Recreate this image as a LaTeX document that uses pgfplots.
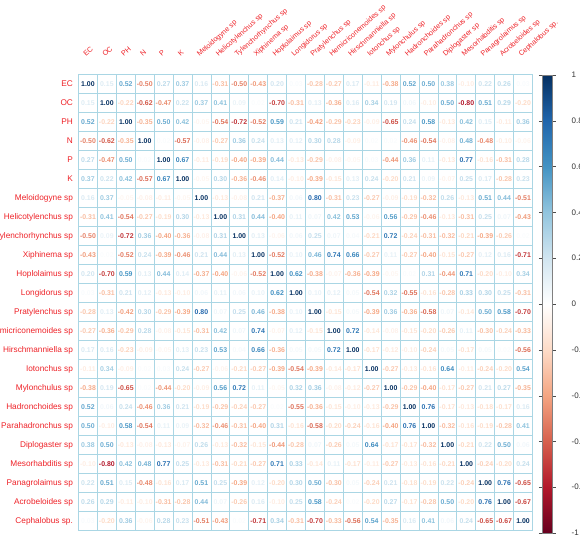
\documentclass[border=0pt]{standalone}
\usepackage{pgfplots}
\usepackage{pgfplotstable}
\usepackage{fontspec}
\setmainfont{Liberation Sans}
\pgfplotsset{compat=1.18}
\definecolor{gridblue}{RGB}{170,214,228}
\definecolor{labred}{RGB}{238,34,40}
\pgfplotstableread{
c0 c1 c2 c3 c4 c5 c6 c7 c8 c9 c10 c11 c12 c13 c14 c15 c16 c17 c18 c19 c20 c21 c22 c23
1.00 0.15 0.52 -0.50 0.27 0.37 0.16 -0.31 -0.50 -0.43 0.20 0.03 -0.28 -0.27 0.17 -0.11 -0.38 0.52 0.50 0.38 -0.10 0.22 0.26 0.03
0.15 1.00 -0.22 -0.62 -0.47 0.22 0.37 0.41 0.09 0.02 -0.70 -0.31 0.13 -0.36 0.16 0.34 0.19 0.06 -0.10 0.50 -0.80 0.51 0.29 -0.20
0.52 -0.22 1.00 -0.35 0.50 0.42 -0.05 -0.54 -0.72 -0.52 0.59 0.21 -0.42 -0.29 -0.23 -0.09 -0.65 0.24 0.58 -0.13 0.42 0.15 -0.11 0.36
-0.50 -0.62 -0.35 1.00 0.02 -0.57 -0.08 -0.27 0.36 0.24 0.13 0.12 0.30 0.28 -0.09 0.02 0.02 -0.46 -0.54 -0.08 0.48 -0.48 -0.10 -0.06
0.27 -0.47 0.50 0.02 1.00 0.67 -0.11 -0.19 -0.40 -0.39 0.44 -0.13 -0.29 -0.08 -0.05 0.03 -0.44 0.36 0.11 -0.13 0.77 -0.16 -0.31 0.28
0.37 0.22 0.42 -0.57 0.67 1.00 -0.05 0.30 -0.36 -0.46 0.14 -0.10 -0.39 -0.15 0.13 0.24 -0.20 0.21 0.09 -0.07 0.25 0.17 -0.28 0.23
0.16 0.37 -0.05 -0.08 -0.11 -0.05 1.00 -0.13 -0.08 0.21 -0.37 0.06 0.80 -0.31 0.23 -0.27 -0.09 -0.19 -0.32 0.26 -0.13 0.51 0.44 -0.51
-0.31 0.41 -0.54 -0.27 -0.19 0.30 -0.13 1.00 0.31 0.44 -0.40 0.11 0.07 0.42 0.53 -0.06 0.56 -0.29 -0.46 -0.13 -0.31 0.25 0.07 -0.43
-0.50 0.09 -0.72 0.36 -0.40 -0.36 -0.08 0.31 1.00 0.13 -0.06 0.06 0.25 0.07 0.04 -0.21 0.72 -0.24 -0.31 -0.32 -0.21 -0.39 -0.26 0.02
-0.43 0.02 -0.52 0.24 -0.39 -0.46 0.21 0.44 0.13 1.00 -0.52 0.10 0.46 0.74 0.66 -0.27 0.11 -0.27 -0.40 -0.15 -0.27 0.12 0.16 -0.71
0.20 -0.70 0.59 0.13 0.44 0.14 -0.37 -0.40 -0.06 -0.52 1.00 0.62 -0.38 -0.07 -0.36 -0.39 -0.05 0.02 0.31 -0.44 0.71 -0.20 -0.10 0.34
0.03 -0.31 0.21 0.12 -0.13 -0.10 0.06 0.11 0.06 0.10 0.62 1.00 0.10 0.12 0.05 -0.54 0.32 -0.55 -0.16 -0.28 0.33 0.30 0.25 -0.31
-0.28 0.13 -0.42 0.30 -0.29 -0.39 0.80 0.07 0.25 0.46 -0.38 0.10 1.00 -0.15 0.05 -0.39 0.36 -0.36 -0.58 0.07 -0.14 0.50 0.58 -0.70
-0.27 -0.36 -0.29 0.28 -0.08 -0.15 -0.31 0.42 0.07 0.74 -0.07 0.12 -0.15 1.00 0.72 -0.14 -0.08 -0.15 -0.20 -0.26 0.11 -0.30 -0.24 -0.33
0.17 0.16 -0.23 -0.09 -0.05 0.13 0.23 0.53 0.04 0.66 -0.36 0.05 0.05 0.72 1.00 -0.17 -0.12 -0.10 -0.24 0.05 -0.17 0.05 0.02 -0.56
-0.11 0.34 -0.09 0.02 0.03 0.24 -0.27 -0.06 -0.21 -0.27 -0.39 -0.54 -0.39 -0.14 -0.17 1.00 -0.27 -0.13 -0.16 0.64 -0.11 -0.24 -0.20 0.54
-0.38 0.19 -0.65 0.02 -0.44 -0.20 -0.09 0.56 0.72 0.11 -0.05 0.32 0.36 -0.08 -0.12 -0.27 1.00 -0.29 -0.40 -0.17 -0.27 0.21 0.27 -0.35
0.52 0.06 0.24 -0.46 0.36 0.21 -0.19 -0.29 -0.24 -0.27 0.02 -0.55 -0.36 -0.15 -0.10 -0.13 -0.29 1.00 0.76 -0.17 -0.13 -0.18 -0.17 0.16
0.50 -0.10 0.58 -0.54 0.11 0.09 -0.32 -0.46 -0.31 -0.40 0.31 -0.16 -0.58 -0.20 -0.24 -0.16 -0.40 0.76 1.00 -0.32 -0.16 -0.19 -0.28 0.41
0.38 0.50 -0.13 -0.08 -0.13 -0.07 0.26 -0.13 -0.32 -0.15 -0.44 -0.28 0.07 -0.26 0.05 0.64 -0.17 -0.17 -0.32 1.00 -0.21 0.22 0.50 0.06
-0.10 -0.80 0.42 0.48 0.77 0.25 -0.13 -0.31 -0.21 -0.27 0.71 0.33 -0.14 0.11 -0.17 -0.11 -0.27 -0.13 -0.16 -0.21 1.00 -0.24 -0.20 0.24
0.22 0.51 0.15 -0.48 -0.16 0.17 0.51 0.25 -0.39 0.12 -0.20 0.30 0.50 -0.30 0.05 -0.24 0.21 -0.18 -0.19 0.22 -0.24 1.00 0.76 -0.65
0.26 0.29 -0.11 -0.10 -0.31 -0.28 0.44 0.07 -0.26 0.16 -0.10 0.25 0.58 -0.24 0.02 -0.20 0.27 -0.17 -0.28 0.50 -0.20 0.76 1.00 -0.67
0.03 -0.20 0.36 -0.06 0.28 0.23 -0.51 -0.43 0.02 -0.71 0.34 -0.31 -0.70 -0.33 -0.56 0.54 -0.35 0.16 0.41 0.06 0.24 -0.65 -0.67 1.00
}\corrtable
\begin{document}
\begin{tikzpicture}
\begin{axis}[
  at={(58.875pt,-55.875pt)}, anchor=north west,
  x=14.1875pt, y=14.25pt, y dir=reverse,
  xmin=-0.5, xmax=23.5, ymin=-0.5, ymax=23.5,
  clip=false,
  axis line style={draw=gridblue, line width=0.6pt},
  xtick={0,...,23}, ytick={0,...,23},
  xticklabel pos=right,
  xticklabels={EC,OC,PH,N,P,K,Meloidogyne sp,Helicotylenchus sp,Tylenchorhynchus sp,Xiphinema sp,Hoplolaimus sp,Longidorus sp,Pratylenchus sp,Hemicriconemoides sp,Hirschmanniella sp,Iotonchus sp,Mylonchulus sp,Hadronchoides sp,Parahadronchus sp,Diplogaster sp,Mesorhabditis sp,Panagrolaimus sp,Acrobeloides sp,Cephalobus sp.},
  yticklabels={EC,OC,PH,N,P,K,Meloidogyne sp,Helicotylenchus sp,Tylenchorhynchus sp,Xiphinema sp,Hoplolaimus sp,Longidorus sp,Pratylenchus sp,Hemicriconemoides sp,Hirschmanniella sp,Iotonchus sp,Mylonchulus sp,Hadronchoides sp,Parahadronchus sp,Diplogaster sp,Mesorhabditis sp,Panagrolaimus sp,Acrobeloides sp,Cephalobus sp.},
  major tick length=0pt, minor tick length=0pt,
  minor xtick={-0.5,0.5,...,23.5}, minor ytick={-0.5,0.5,...,23.5},
  xminorgrids=true, yminorgrids=true,
  minor grid style={draw=gridblue, line width=0.6pt},
  xticklabel style={font=\fontsize{5.4}{6}\selectfont, text=labred, inner sep=0pt, xshift=-1.5pt, yshift=13pt, rotate=42, anchor=base west},
  yticklabel style={font=\fontsize{6.2}{7}\selectfont, text=labred, inner sep=0pt, anchor=east, xshift=-4pt},
  colormap={corr}{rgb255=(103,0,31) rgb255=(178,24,43) rgb255=(214,96,77) rgb255=(244,165,130) rgb255=(253,219,199) rgb255=(255,255,255) rgb255=(209,229,240) rgb255=(146,197,222) rgb255=(67,147,195) rgb255=(33,102,172) rgb255=(5,48,97)},
  point meta min=-1, point meta max=1,
  colorbar,
  colorbar style={
    at={(parent axis.north east)}, anchor=north west,
    xshift=-1.2pt, yshift=-0.4pt,
    scale only axis, width=7.5pt, height=343.5pt,
    ytick={-1,-0.8,-0.6,-0.4,-0.2,0,0.2,0.4,0.6,0.8,1},
    yticklabel style={font=\fontsize{6}{7}\selectfont, text=black!80, xshift=8.5pt, /pgf/number format/assume math mode=true},
    tick align=outside, major tick length=2.5pt,
    axis line style={draw=gray},
    tick style={draw=black!70},
  },
]
\pgfplotsinvokeforeach{0,...,23}{
  \addplot[draw=none, mark=none, point meta=explicit,
    nodes near coords={\pgfplotscolormapdefinemappedcolor{\pgfplotspointmetatransformed}\color{mapped color}\pgfmathprintnumber[fixed,fixed zerofill,precision=2,assume math mode=true]{\pgfplotspointmeta}},
    every node near coord/.append style={anchor=center, inner sep=0pt, font=\fontsize{5.2}{6}\selectfont\bfseries}
  ] table[x expr=#1, y expr=\coordindex, meta=c#1] {\corrtable};
}
\end{axis}
\pgfresetboundingbox
\useasboundingbox (0,0) rectangle (435pt,-400.5pt);
\end{tikzpicture}
\end{document}
